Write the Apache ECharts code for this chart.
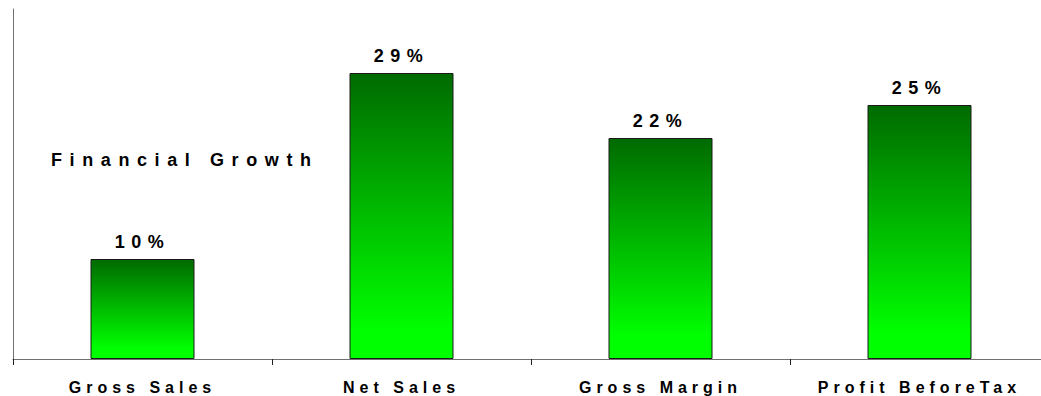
<!DOCTYPE html>
<html>
<head>
<meta charset="utf-8">
<script src="https://cdn.jsdelivr.net/npm/echarts@6/dist/echarts.min.js"></script>
<style>
  html, body { margin: 0; padding: 0; background: #ffffff; overflow: hidden; }
  /* the plot runs a little past the right edge of the window */
  #chart { width: 1056px; height: 396px; }
</style>
</head>
<body>
<div id="chart"></div>
<script>
// Growth figures per measure, in percent
const categories = ['Gross Sales', 'Net Sales', 'Gross Margin', 'Profit BeforeTax'];
const growth = [10.0, 28.6, 22.1, 25.4];
const chartTitle = 'Financial Growth';

const FONT = '"Liberation Sans", Arial, sans-serif';

// Extra letter spacing (px) for each kind of text
const TITLE_SPACING = 7.6;
const CATEGORY_SPACING = 5.0;
const VALUE_SPACING = 6.5;

const chart = echarts.init(document.getElementById('chart'), null, { renderer: 'svg' });

chart.setOption({
  animation: false,
  title: {
    text: chartTitle,
    left: 51,
    top: 151,
    padding: 0,
    textStyle: { fontFamily: FONT, fontWeight: 'bold', fontSize: 18, color: '#000000' }
  },
  grid: { left: 13, top: 9, width: 1036, height: 350, containLabel: false },
  xAxis: {
    type: 'category',
    data: categories,
    axisLine: { lineStyle: { color: '#707070', width: 1 } },
    axisTick: { show: true, length: 6, lineStyle: { color: '#202020' } },
    axisLabel: {
      margin: 20,
      color: '#000000',
      fontFamily: FONT,
      fontWeight: 'bold',
      fontSize: 16
    }
  },
  yAxis: {
    type: 'value',
    min: 0,
    max: 35,
    axisLine: { show: true, lineStyle: { color: '#707070', width: 1 } },
    axisTick: { show: false },
    axisLabel: { show: false },
    splitLine: { show: false }
  },
  series: [{
    type: 'bar',
    data: growth,
    barWidth: 104,
    silent: true,
    itemStyle: {
      color: new echarts.graphic.LinearGradient(0, 0, 0, 1, [
        { offset: 0, color: '#006a00' },
        { offset: 0.9, color: '#00ff00' },
        { offset: 1, color: '#00ff00' }
      ]),
      borderColor: '#1a1a1a',
      borderWidth: 1
    },
    label: {
      show: true,
      position: 'top',
      distance: 8,
      color: '#000000',
      fontFamily: FONT,
      fontWeight: 'bold',
      fontSize: 18,
      formatter: p => Math.round(p.value) + '%'
    }
  }]
});

// Spread the letters of the title, axis labels and value labels
function applySpacing() {
  const svgTexts = document.querySelectorAll('#chart svg text');
  svgTexts.forEach(t => {
    if (t.dataset.spaced) return;
    const txt = t.textContent;
    let s = null;
    if (txt === chartTitle) s = TITLE_SPACING;
    else if (categories.indexOf(txt) >= 0) s = CATEGORY_SPACING;
    else if (/%$/.test(txt)) s = VALUE_SPACING;
    if (s === null) return;
    t.style.letterSpacing = s + 'px';
    t.dataset.spaced = '1';
  });
}
applySpacing();
chart.on('finished', applySpacing);
setTimeout(applySpacing, 0);
</script>
</body>
</html>
